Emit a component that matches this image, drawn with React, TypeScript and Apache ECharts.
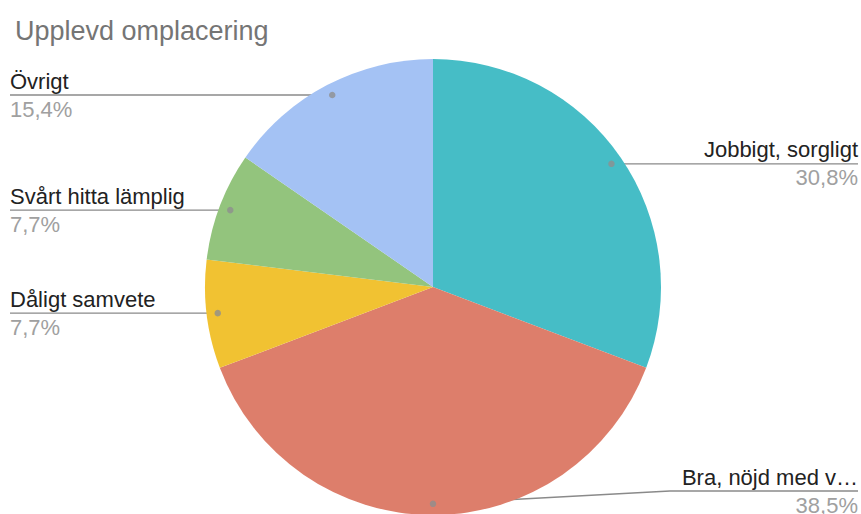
import React, { useEffect, useRef } from 'react';
import * as echarts from 'echarts';

const chartTitle = 'Upplevd omplacering';
const categories = ['Jobbigt, sorgligt', 'Bra, nöjd med v…', 'Dåligt samvete', 'Svårt hitta lämplig', 'Övrigt'];
const values = [4, 5, 1, 1, 2];
const colors = ['#46bdc6', '#dd7e6b', '#f1c232', '#93c47d', '#a4c2f4'];

const W = 861;
const H = 514;
const CX = 433;
const CY = 287;
const R = 228;
const DOT = 0.951;
const FONT = "'Liberation Sans', Arial, sans-serif";

export default function App() {
  const ref = useRef<HTMLDivElement>(null);

  useEffect(() => {
    document.body.style.margin = '0';
    if (!ref.current) return;
    const chart = echarts.init(ref.current, null, { renderer: 'svg' });
    const total = values.reduce((a, b) => a + b, 0);
    const pct = values.map((v) => (v / total * 100).toFixed(1).replace('.', ',') + '%');
    const mids: number[] = [];
    let acc = 0;
    values.forEach((v) => { mids.push(acc + v / 2); acc += v; });

    chart.setOption({
      animation: false,
      title: {
        text: chartTitle,
        left: 10,
        top: 12,
        textStyle: { fontSize: 27, fontWeight: 'normal', color: '#757575', fontFamily: FONT },
      },
      polar: { center: [CX, CY], radius: R },
      angleAxis: { type: 'value', min: 0, max: total, startAngle: 90, clockwise: true, show: false },
      radiusAxis: { type: 'value', min: 0, max: 1, show: false },
      series: [
        {
          type: 'pie',
          center: [CX, CY],
          radius: R,
          startAngle: 90,
          clockwise: true,
          avoidLabelOverlap: false,
          silent: true,
          data: categories.map((c, i) => ({ name: c, value: values[i], itemStyle: { color: colors[i] } })),
          itemStyle: { borderWidth: 0 },
          label: {
            show: true,
            position: 'outside',
            formatter: (p: any) => `{n|${p.name}}\n{p|${pct[p.dataIndex]}}`,
            rich: {
              n: { fontSize: 22, color: '#222222', lineHeight: 28, fontFamily: FONT },
              p: { fontSize: 22, color: '#a0a0a0', lineHeight: 28, fontFamily: FONT },
            },
          },
          labelLine: { show: true, length: 10, length2: 10, lineStyle: { color: '#8a8a8a', width: 1.4 } },
          labelLayout: (p: any) => {
            const p0 = p.labelLinePoints[0];
            const dx = p0[0] - CX;
            const dy = p0[1] - CY;
            const len = Math.sqrt(dx * dx + dy * dy) || 1;
            const dotX = CX + (dx / len) * R * DOT;
            const dotY = CY + (dy / len) * R * DOT;
            const lineY = Math.min(dotY, H - 23);
            const w = p.labelRect.width;
            if (dx > -5) {
              const endX = W - 3;
              const bendX = endX - w - 12;
              return {
                x: endX, y: lineY, align: 'right', verticalAlign: 'middle',
                labelLinePoints: [[dotX, dotY], [bendX, lineY], [endX, lineY]],
              };
            }
            const startX = 10;
            const bendX = startX + w + 12;
            return {
              x: startX, y: lineY, align: 'left', verticalAlign: 'middle',
              labelLinePoints: [[dotX, dotY], [bendX, lineY], [startX, lineY]],
            };
          },
        },
        {
          type: 'scatter',
          coordinateSystem: 'polar',
          silent: true,
          z: 10,
          symbolSize: 6.5,
          itemStyle: { color: '#8f8f8f' },
          data: mids.map((m) => [DOT, m]),
        },
      ],
    });
    return () => chart.dispose();
  }, []);

  return <div ref={ref} style={{ width: W, height: H }} />;
}
